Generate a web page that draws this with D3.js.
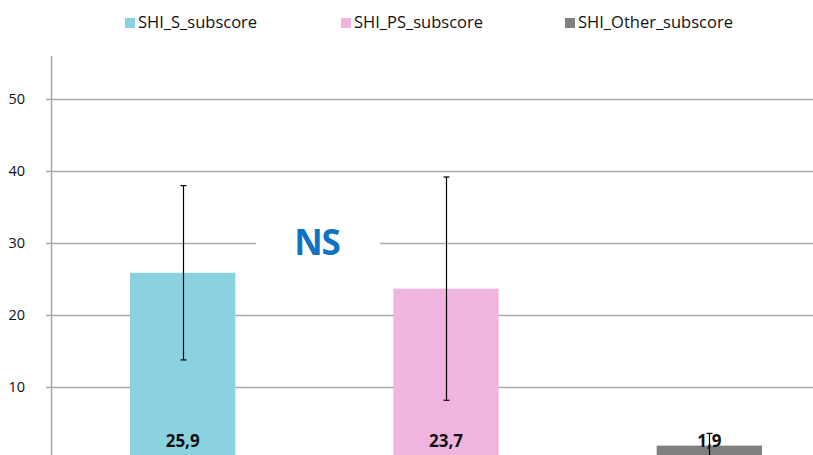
<!DOCTYPE html>
<html>
<head>
<meta charset="utf-8">
<script src="https://cdn.jsdelivr.net/npm/d3@7.9.0/dist/d3.min.js"></script>
<style>
  html, body { margin: 0; padding: 0; background: #fff; }
  svg { display: block; font-family: 'Open Sans', sans-serif; }
</style>
</head>
<body>
<svg id="chart" width="813" height="455"></svg>
<script>
const categories = ['SHI_S_subscore', 'SHI_PS_subscore', 'SHI_Other_subscore'];
const means = [25.9, 23.7, 1.9];
const sds = [12.1, 15.5, 1.7];
const labels = ['25,9', '23,7', '1,9'];
const colors = ['#8ad2e0', '#efb5df', '#808080'];
const yTicks = [10, 20, 30, 40, 50];

const svg = d3.select('#chart');

const x = d3.scaleBand().domain(categories).range([51, 841]).paddingInner(0.6).paddingOuter(0.3);
const y = d3.scaleLinear().domain([0, 56]).range([459.3, 56]);

// gridlines
svg.append('g')
  .selectAll('line')
  .data(yTicks)
  .join('line')
  .attr('x1', 46)
  .attr('x2', 813)
  .attr('y1', d => Math.round(y(d)) + 0.5)
  .attr('y2', d => Math.round(y(d)) + 0.5)
  .attr('stroke', '#ababab')
  .attr('stroke-width', 1.5);

// y axis line
svg.append('line')
  .attr('x1', 51.5).attr('x2', 51.5)
  .attr('y1', 56).attr('y2', 455)
  .attr('stroke', '#a6a6a6')
  .attr('stroke-width', 1.5);

svg.append('g')
  .selectAll('text')
  .data(yTicks)
  .join('text')
  .attr('x', 25)
  .attr('y', d => y(d) + 5)
  .attr('text-anchor', 'end')
  .attr('font-size', 14.5)
  .attr('fill', '#111')
  .text(d => d);

// NS label with white box over gridline
svg.append('rect')
  .attr('x', 256).attr('y', 225).attr('width', 124).attr('height', 36)
  .attr('fill', '#fff');
svg.append('text')
  .attr('x', 317).attr('y', 255)
  .attr('text-anchor', 'middle')
  .attr('font-size', 35)
  .attr('font-weight', 'bold')
  .attr('fill', '#0f72c2')
  .attr('letter-spacing', -1)
  .text('NS');

// bars
svg.append('g')
  .selectAll('rect')
  .data(categories)
  .join('rect')
  .attr('x', d => x(d))
  .attr('width', x.bandwidth())
  .attr('y', (d, i) => y(means[i]))
  .attr('height', (d, i) => y(0) - y(means[i]))
  .attr('fill', (d, i) => colors[i]);

// error bars
const eb = svg.append('g').attr('stroke', '#000').attr('stroke-width', 1.2);
categories.forEach((c, i) => {
  const cx = Math.round(x(c) + x.bandwidth() / 2) + 0.5;
  const top = y(means[i] + sds[i]);
  const bot = y(means[i] - sds[i]);
  eb.append('line').attr('x1', cx).attr('x2', cx).attr('y1', top).attr('y2', bot);
  eb.append('line').attr('x1', cx - 3).attr('x2', cx + 3).attr('y1', top).attr('y2', top);
  eb.append('line').attr('x1', cx - 3).attr('x2', cx + 3).attr('y1', bot).attr('y2', bot);
});

// value labels
svg.append('g')
  .selectAll('text')
  .data(categories)
  .join('text')
  .attr('x', d => x(d) + x.bandwidth() / 2)
  .attr('y', 447)
  .attr('text-anchor', 'middle')
  .attr('font-size', 17)
  .attr('font-weight', 'bold')
  .attr('fill', '#111')
  .text((d, i) => labels[i]);

// legend
const legendX = [125, 341, 565];
const lg = svg.append('g');
categories.forEach((c, i) => {
  lg.append('rect')
    .attr('x', legendX[i]).attr('y', 18).attr('width', 10).attr('height', 10)
    .attr('fill', colors[i]);
  lg.append('text')
    .attr('x', legendX[i] + 13).attr('y', 28)
    .attr('font-size', 16.5)
    .attr('fill', '#111')
    .text(c);
});
</script>
</body>
</html>
